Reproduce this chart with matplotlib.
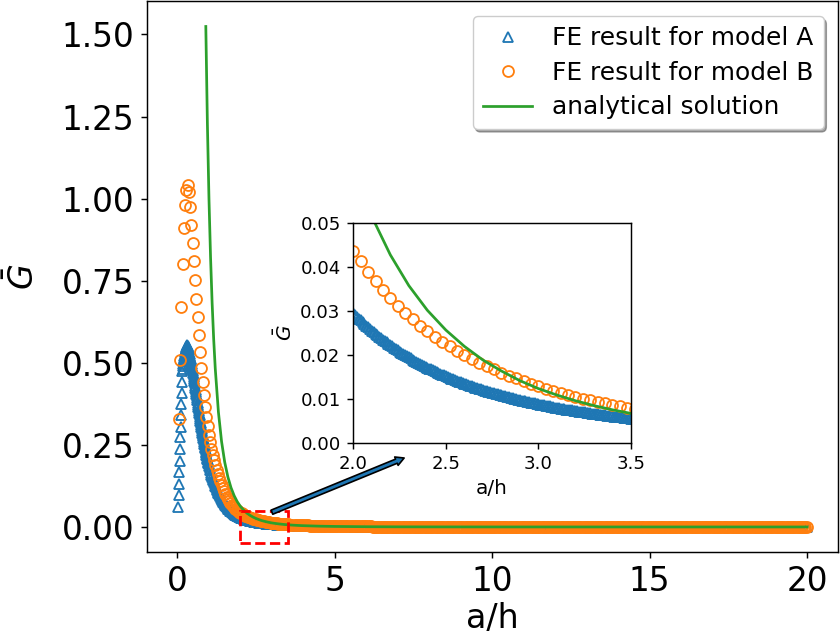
import numpy as np
import matplotlib
matplotlib.use("Agg")
import matplotlib.pyplot as plt
from matplotlib.patches import Rectangle

# ---------------- data ----------------
# FE result for model A (triangles)
a_peak = [0.061, 0.096, 0.131, 0.166, 0.202, 0.237, 0.273, 0.305, 0.340, 0.373,
          0.409, 0.442, 0.474, 0.482, 0.490, 0.497, 0.504, 0.510, 0.516, 0.522,
          0.527, 0.532, 0.537, 0.541, 0.545, 0.549, 0.552, 0.555]          # x 0.03..0.30
a_fall = [0.5526, 0.5500, 0.5474, 0.5446, 0.542, 0.538, 0.534, 0.530, 0.526, 0.522,
          0.517, 0.512, 0.507, 0.502, 0.497, 0.4912, 0.4854, 0.4796, 0.4738, 0.468,
          0.4618, 0.4556, 0.4494, 0.4432, 0.437, 0.4306, 0.4242, 0.4178, 0.4114, 0.405,
          0.3984, 0.3918, 0.3852, 0.3786, 0.372, 0.3656, 0.3592, 0.3528, 0.3464, 0.340,
          0.334, 0.328, 0.322, 0.316, 0.310, 0.3042, 0.2984, 0.2926, 0.2868, 0.281,
          0.2756, 0.2702, 0.2648, 0.2594, 0.254, 0.249, 0.244, 0.239, 0.234, 0.229,
          0.2246, 0.2202, 0.2158, 0.2114, 0.207, 0.203, 0.199, 0.195, 0.191, 0.187]  # x 0.31..1.00
a_mid = [0.1798, 0.1726, 0.1658, 0.1594, 0.153, 0.1474, 0.1418, 0.1364, 0.1312, 0.126,
         0.1212, 0.1164, 0.112, 0.108, 0.104, 0.1002, 0.0964, 0.0928, 0.0894, 0.0860,
         0.0828, 0.0796, 0.0764, 0.0733, 0.0702, 0.0676, 0.0649, 0.0624, 0.0600, 0.0576,
         0.0555, 0.0535, 0.0516, 0.0498, 0.0480, 0.0464, 0.0448, 0.0433, 0.0418, 0.0405,
         0.0391, 0.0379, 0.0367, 0.0355, 0.0344, 0.0333, 0.0323, 0.0313, 0.0304, 0.0295]  # x 1.02..2.00
a_zoom = [0.02863, 0.02780, 0.02700, 0.02623, 0.02548, 0.02477, 0.02408, 0.02342, 0.02278, 0.02216,
          0.02157, 0.02100, 0.02045, 0.01991, 0.01940, 0.01890, 0.01842, 0.01795, 0.01751, 0.01707,
          0.01665, 0.01625, 0.01585, 0.01547, 0.01510, 0.01475, 0.01440, 0.01407, 0.01374, 0.01343,
          0.01312, 0.01283, 0.01254, 0.01226, 0.01199, 0.01173, 0.01147, 0.01122, 0.01098, 0.01075,
          0.01052, 0.01030, 0.01009, 0.00988, 0.00968, 0.00948, 0.00929, 0.00910, 0.00892, 0.00874,
          0.00857, 0.00840, 0.00824, 0.00808, 0.00792, 0.00777, 0.00762, 0.00748, 0.00734, 0.00720,
          0.00707, 0.00694, 0.00681, 0.00669, 0.00657, 0.00645, 0.00633, 0.00622, 0.00611, 0.00600,
          0.00590, 0.00580, 0.00570, 0.00560, 0.00550, 0.00541, 0.00532, 0.00523, 0.00514, 0.00506]  # x 2.02..3.60
a_zoom_odd = [0.02907, 0.02822, 0.02740, 0.02662, 0.02586, 0.02513, 0.02443, 0.02375, 0.02310, 0.02247,
              0.02187, 0.02129, 0.02073, 0.02018, 0.01966, 0.01915, 0.01866, 0.01819, 0.01773, 0.01729,
              0.01686, 0.01645, 0.01605, 0.01566, 0.01529, 0.01493, 0.01458, 0.01424, 0.01391, 0.01359,
              0.01328, 0.01298, 0.01269, 0.01240, 0.01213, 0.01186, 0.01160, 0.01135, 0.01110, 0.01087,
              0.01064, 0.01041, 0.01020, 0.00999, 0.00978, 0.00958, 0.00939, 0.00920, 0.00901, 0.00883,
              0.00866, 0.00849, 0.00832, 0.00816, 0.00800, 0.00785, 0.00770, 0.00755, 0.00741, 0.00727,
              0.00714, 0.00701, 0.00688, 0.00675, 0.00663, 0.00651, 0.00639, 0.00628, 0.00617, 0.00606,
              0.00595, 0.00585, 0.00575, 0.00565, 0.00555, 0.00546, 0.00537, 0.00528, 0.00519, 0.00510]  # x 2.01..3.59
a_tail = [0.00430, 0.00369, 0.00319, 0.00277, 0.00242, 0.00213, 0.00189, 0.00168, 0.00150, 0.00134,
          0.00121, 0.00109, 0.00099, 0.00090, 0.00082, 0.00075, 0.00069, 0.00063, 0.00058, 0.00054,
          0.00050, 0.00046, 0.00043, 0.00040, 0.00037, 0.00035, 0.00032, 0.00030, 0.00028, 0.00027,
          0.00025, 0.00024,
          0.00022, 0.00021, 0.00020, 0.00019, 0.00018, 0.00017, 0.00016, 0.00015, 0.00015, 0.00014,
          0.00013, 0.00012, 0.00012, 0.00011, 0.00011, 0.00010, 0.00010, 0.00009, 0.00009, 0.00009,
          0.00008, 0.00008, 0.00008, 0.00007, 0.00007, 0.00007, 0.00006, 0.00006, 0.00006, 0.00006,
          0.00006, 0.00005, 0.00005, 0.00005, 0.00005, 0.00005, 0.00005, 0.00004, 0.00004, 0.00004,
          0.00004, 0.00004, 0.00004, 0.00004, 0.00004, 0.00003, 0.00003, 0.00003, 0.00003, 0.00003]  # x 3.8..20.0

# FE result for model B (circles)
b_main = [0.33, 0.51, 0.67, 0.80, 0.91, 0.98, 1.025, 1.04, 1.02, 0.975,
          0.92, 0.865, 0.81, 0.752, 0.695, 0.638, 0.584, 0.532, 0.484, 0.440,
          0.401, 0.366, 0.335, 0.307, 0.281, 0.258, 0.237, 0.219, 0.203, 0.189,
          0.175, 0.162, 0.150, 0.139, 0.128, 0.118, 0.109, 0.100, 0.092, 0.085,
          0.079, 0.073, 0.068, 0.064, 0.060, 0.056, 0.052, 0.049, 0.046, 0.0436]  # x 0.04..2.00
b_zoom = [0.04122, 0.03889, 0.03673, 0.03473, 0.03287, 0.03114, 0.02953, 0.02803, 0.02663, 0.02532,
          0.02409, 0.02295, 0.02187, 0.02086, 0.01991, 0.01902, 0.01818, 0.01739, 0.01665, 0.01594,
          0.01525, 0.01460, 0.01398, 0.01340, 0.01283, 0.01230, 0.01180, 0.01132, 0.01087, 0.01044,
          0.01003, 0.00964, 0.00927, 0.00892, 0.00858, 0.00826, 0.00796, 0.00767, 0.00740, 0.00714]  # x 2.04..3.60
b_tail = [0.00651, 0.00601, 0.00556, 0.00516, 0.00479, 0.00445, 0.00415, 0.00387, 0.00362, 0.00339,
          0.00318, 0.00298, 0.00280, 0.00264, 0.00249, 0.00235, 0.00222, 0.00210, 0.00198, 0.00188,
          0.00178, 0.00169, 0.00161, 0.00153, 0.00145, 0.00138, 0.00132, 0.00126, 0.00120, 0.00115,
          0.00110, 0.00105, 0.00100, 0.00096, 0.00092, 0.00088, 0.00085, 0.00081, 0.00078, 0.00075,
          0.00072, 0.00070, 0.00067, 0.00064, 0.00062, 0.00060, 0.00058, 0.00056, 0.00054, 0.00052,
          0.00050, 0.00048, 0.00047, 0.00045, 0.00044, 0.00042, 0.00041, 0.00040, 0.00038, 0.00037,
          0.00036, 0.00035, 0.00034, 0.00033,
          0.00032, 0.00031, 0.00030, 0.00029, 0.00029, 0.00028, 0.00027, 0.00026, 0.00025, 0.00025,
          0.00024, 0.00023, 0.00023, 0.00022, 0.00022, 0.00021, 0.00021, 0.00020, 0.00020, 0.00019,
          0.00019, 0.00018, 0.00018, 0.00017, 0.00017, 0.00017, 0.00016, 0.00016, 0.00016, 0.00015,
          0.00015, 0.00014, 0.00014, 0.00014, 0.00013, 0.00013, 0.00013, 0.00013, 0.00012, 0.00012,
          0.00012, 0.00011, 0.00011, 0.00011, 0.00011, 0.00011, 0.00010, 0.00010, 0.00010, 0.00010,
          0.000096, 0.000094, 0.000092, 0.000090, 0.000088, 0.000086, 0.000085, 0.000083, 0.000081, 0.000081,
          0.000079, 0.000077, 0.000076, 0.000074, 0.000073, 0.000071, 0.000070, 0.000068, 0.000067, 0.000067,
          0.000066, 0.000065, 0.000063, 0.000062, 0.000061, 0.000060, 0.000059, 0.000058, 0.000057, 0.000057,
          0.000056, 0.000055, 0.000054, 0.000053, 0.000052, 0.000051, 0.000050, 0.000049, 0.000049, 0.000048,
          0.000047, 0.000047, 0.000046, 0.000045, 0.000044, 0.000044, 0.000043, 0.000042, 0.000042, 0.000041]  # x 3.7..20.0
b_tail_odd = [0.00626, 0.00578, 0.00535, 0.00497, 0.00462, 0.00430, 0.00401, 0.00374, 0.00350, 0.00328,
              0.00308, 0.00289, 0.00272, 0.00256, 0.00242, 0.00228, 0.00216, 0.00204, 0.00193, 0.00183,
              0.00174, 0.00165, 0.00157, 0.00149, 0.00142, 0.00135, 0.00129, 0.00123, 0.00117, 0.00112,
              0.00107, 0.00103, 0.00098, 0.00094, 0.00090, 0.00087, 0.00083, 0.00080, 0.00077, 0.00074,
              0.00071, 0.00068, 0.00066, 0.00063, 0.00061, 0.00059, 0.00057, 0.00055, 0.00053, 0.00051,
              0.00049, 0.00048, 0.00046, 0.00045, 0.00043, 0.00042, 0.00040, 0.00039, 0.00038, 0.00037,
              0.00036, 0.00035, 0.00034,
              0.00033, 0.00032, 0.00030, 0.00030, 0.00029, 0.00028, 0.00027, 0.00026, 0.00026, 0.00025,
              0.00024, 0.00024, 0.00023, 0.00022, 0.00022, 0.00021, 0.00021, 0.00020, 0.00020, 0.00019,
              0.00019, 0.00018, 0.00018, 0.00018, 0.00017, 0.00017, 0.00016, 0.00016, 0.00016, 0.00015,
              0.00015, 0.00015, 0.00014, 0.00014, 0.00014, 0.00013, 0.00013, 0.00013, 0.00012, 0.00012,
              0.00012, 0.00012, 0.00011, 0.00011, 0.00011, 0.00011, 0.00010, 0.00010, 0.00010, 0.00010,
              0.000097, 0.000095, 0.000093, 0.000091, 0.000089, 0.000087, 0.000085, 0.000084, 0.000082, 0.000080,
              0.000080, 0.000078, 0.000076, 0.000075, 0.000073, 0.000072, 0.000070, 0.000069, 0.000068, 0.000066,
              0.000065, 0.000064, 0.000063, 0.000061, 0.000060, 0.000059, 0.000058, 0.000058, 0.000057, 0.000056,
              0.000055, 0.000054, 0.000053, 0.000052, 0.000052, 0.000051, 0.000050, 0.000049, 0.000048, 0.000048,
              0.000047, 0.000046, 0.000046, 0.000045, 0.000044, 0.000043, 0.000043, 0.000042, 0.000042, 0.000041]  # x 3.75..19.95

# analytical solution
g_x = [0.90, 0.95, 1.00, 1.05, 1.10, 1.15, 1.20, 1.30, 1.40, 1.50, 1.60, 1.70, 1.80, 1.90,
       2.00, 2.10, 2.20, 2.30, 2.40, 2.50, 2.60, 2.70, 2.80, 2.90, 3.00, 3.10, 3.20, 3.30,
       3.40, 3.50, 3.60, 3.70, 3.80, 3.90, 4.00, 4.50, 5.0, 6.0, 7.0, 8.0, 10.0, 12.0, 15.0, 20.0]
g_y = [1.5242, 1.2277, 1.0000, 0.8227, 0.6830, 0.5718, 0.4823, 0.3501, 0.2603, 0.1975, 0.1526,
       0.1197, 0.0953, 0.0767, 0.0625, 0.0514, 0.0427, 0.0357, 0.0301, 0.0256, 0.0219, 0.0188,
       0.0163, 0.0141, 0.0123, 0.01083, 0.00954, 0.00843, 0.00748, 0.00666, 0.00595, 0.00534,
       0.00480, 0.00432, 0.00391, 0.00244, 0.0016, 0.00077, 0.00042, 0.00024, 0.0001, 0.00005,
       0.00002, 0.000006]

# sampling positions (a/h) of each FE segment
a_x = np.concatenate([np.linspace(0.03, 0.30, len(a_peak)),
                      np.linspace(0.31, 1.00, len(a_fall)),
                      np.linspace(1.02, 2.00, len(a_mid)),
                      np.linspace(2.01, 3.59, len(a_zoom_odd)),
                      np.linspace(2.02, 3.60, len(a_zoom)),
                      np.linspace(3.8, 20.0, len(a_tail))])
a_y = np.array(a_peak + a_fall + a_mid + a_zoom_odd + a_zoom + a_tail)
b_x = np.concatenate([np.linspace(0.04, 2.00, len(b_main)),
                      np.linspace(2.04, 3.60, len(b_zoom)),
                      np.linspace(3.7, 20.0, len(b_tail)),
                      np.linspace(3.75, 19.95, len(b_tail_odd))])
b_y = np.array(b_main + b_zoom + b_tail + b_tail_odd)

labels = ["FE result for model A", "FE result for model B", "analytical solution"]

S = 1.31  # overall scale of the original rendering
MS = 6 * S
MEW = 1.0 * S

# ---------------- figure ----------------
fig = plt.figure(figsize=(8.4, 6.36), dpi=100)
ax = fig.add_axes([0.175, 0.1321, 0.8232, 0.8656])


def draw(axis):
    axis.plot(a_x, a_y, linestyle="none", marker="^", mfc="none", color="C0",
              markersize=MS, mew=MEW, label=labels[0])
    axis.plot(b_x, b_y, linestyle="none", marker="o", mfc="none", color="C1",
              markersize=MS, mew=MEW, label=labels[1])
    axis.plot(g_x, g_y, color="C2", linewidth=1.5 * S, label=labels[2])
    for sp in axis.spines.values():
        sp.set_linewidth(0.8 * S)
    axis.tick_params(length=3.5 * S, width=0.8 * S, pad=3.5 * S)


draw(ax)
ax.set_xticks([0, 5, 10, 15, 20])
ax.set_yticks([0.0, 0.25, 0.5, 0.75, 1.0, 1.25, 1.5])
ax.tick_params(labelsize=23.6)
ax.set_xlabel("a/h", fontsize=24, labelpad=3.0)
ax.set_ylabel(r"$\bar{G}$", fontsize=24, labelpad=15)

ax.add_patch(Rectangle((2.0, -0.05), 1.5, 0.1, fill=False, edgecolor="red",
                       linestyle="--", linewidth=2, zorder=5))
ax.annotate("", xy=(7.2, 0.21), xytext=(3.0, 0.045),
            arrowprops=dict(facecolor="C0", edgecolor="black", width=3.2,
                            headwidth=6.5, headlength=6, shrink=0.0, lw=1.2),
            zorder=6)

leg = ax.legend(loc="upper right", fontsize=17.9, shadow=True, labelspacing=0.42,
                borderaxespad=0.6)

# ---------------- inset ----------------
ins = fig.add_axes([0.4206, 0.3039, 0.3306, 0.3459])
draw(ins)
ins.set_xlim(2.0, 3.5)
ins.set_ylim(0.0, 0.05)
ins.set_xticks([2.0, 2.5, 3.0, 3.5])
ins.set_yticks([0.0, 0.01, 0.02, 0.03, 0.04, 0.05])
ins.tick_params(labelsize=13.1)
ins.set_xlabel("a/h", fontsize=14.4)
ins.set_ylabel(r"$\bar{G}$", fontsize=14.4)

fig.savefig("out.png", dpi=100)
